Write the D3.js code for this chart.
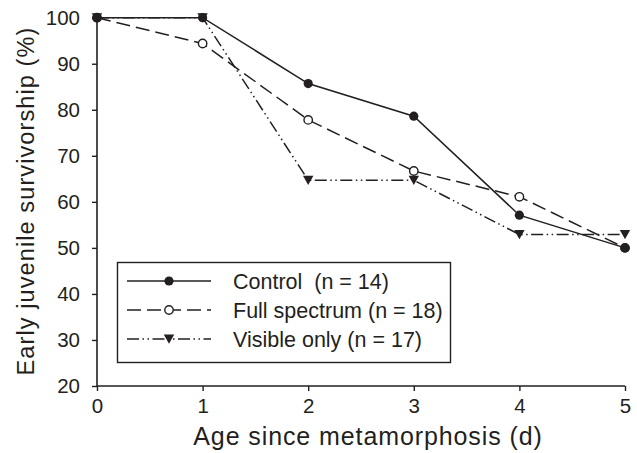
<!DOCTYPE html>
<html>
<head>
<meta charset="utf-8">
<script src="https://cdn.jsdelivr.net/npm/d3@7"></script>
<style>
  body { margin: 0; background: #fff; }
  text { font-family: "Liberation Sans", Arial, sans-serif; fill: #231f20; }
</style>
</head>
<body>
<div id="chart"></div>
<script>
// data
const ages = [0, 1, 2, 3, 4, 5]
const control = [100, 100, 85.7, 78.6, 57.1, 50]
const fullSpectrum = [100, 94.4, 77.8, 66.7, 61.1, 50]
const visibleOnly = [100, 100, 64.7, 64.7, 52.9, 52.9]
const seriesNames = ['Control  (n = 14)', 'Full spectrum (n = 18)', 'Visible only (n = 17)']
const xTicks = [0, 1, 2, 3, 4, 5]
const yTicks = [20, 30, 40, 50, 60, 70, 80, 90, 100]

function drawChart(){
    let margin = {top: 17.7, right: 12, bottom: 67, left: 97}
    let W = 637, H = 453
    let pxX = W - margin.left - margin.right,
        pxY = H - margin.top - margin.bottom

    let svg = d3.select('#chart').append('svg')
        .attr('width', W)
        .attr('height', H)
    let g = svg.append('g')
        .attr('transform', `translate(${margin.left},${margin.top})`)

    let scX = d3.scaleLinear().domain([0, 5]).range([0, pxX])
    let scY = d3.scaleLinear().domain([20, 100]).range([pxY, 0])
    let ink = '#231f20'

    // axes
    let yAxis = g.append('g')
        .call(d3.axisLeft(scY).tickValues(yTicks).tickFormat(d3.format('d')).tickSize(5).tickPadding(12))
    let xAxis = g.append('g')
        .attr('transform', `translate(0,${pxY})`)
        .call(d3.axisBottom(scX).tickValues(xTicks).tickFormat(d3.format('d')).tickSize(5).tickPadding(7))
    ;[xAxis, yAxis].forEach(a=>{
        a.select('.domain').attr('stroke', ink).attr('stroke-width', 1.6)
            .attr('d', a === xAxis ? `M0,0H${pxX}` : `M0,0V${pxY}`)
        a.selectAll('.tick line').attr('stroke', ink).attr('stroke-width', 1.4)
        a.selectAll('.tick text').attr('font-size', '20.5px').attr('fill', ink)
            .style('font-family', '"Liberation Sans", Arial, sans-serif')
    })

    // axis titles
    svg.append('text')
        .attr('x', 368)
        .attr('y', 445)
        .attr('text-anchor', 'middle')
        .attr('font-size', '25px')
        .attr('letter-spacing', '0.9px')
        .text('Age since metamorphosis (d)')
    svg.append('text')
        .attr('transform', `translate(34,201) rotate(-90)`)
        .attr('text-anchor', 'middle')
        .attr('font-size', '23.5px')
        .attr('letter-spacing', '1.1px')
        .text('Early juvenile survivorship (%)')

    let series = [
        {name: seriesNames[0], vals: control, dash: null, marker: 'dot'},
        {name: seriesNames[1], vals: fullSpectrum, dash: '14,6', marker: 'open'},
        {name: seriesNames[2], vals: visibleOnly, dash: '12,3.5,1.5,3.5,1.5,3.5', marker: 'tri'}
    ]

    function marker(sel, kind, x, y){
        if (kind === 'dot') {
            sel.append('circle').attr('cx', x).attr('cy', y).attr('r', 4.6)
                .attr('fill', ink)
        } else if (kind === 'open') {
            sel.append('circle').attr('cx', x).attr('cy', y).attr('r', 4.2)
                .attr('fill', '#fff').attr('stroke', ink).attr('stroke-width', 1.4)
        } else {
            sel.append('path')
                .attr('d', `M${x - 5.2},${y - 4.5}L${x + 5.2},${y - 4.5}L${x},${y + 4.8}Z`)
                .attr('fill', ink)
        }
    }

    let line = d3.line().x((d, i)=>scX(ages[i])).y(d=>scY(d))

    // draw visible first so control ends on top
    series.slice().reverse().forEach(s=>{
        g.append('path')
            .datum(s.vals)
            .attr('d', line)
            .attr('fill', 'none')
            .attr('stroke', ink)
            .attr('stroke-width', 1.5)
            .attr('stroke-dasharray', s.dash)
        s.vals.forEach((v, i)=>marker(g, s.marker, scX(ages[i]), scY(v)))
    })

    // legend
    let leg = svg.append('g')
    leg.append('rect')
        .attr('x', 117.5).attr('y', 262.5)
        .attr('width', 333).attr('height', 100)
        .attr('fill', '#fff').attr('stroke', ink).attr('stroke-width', 1.4)
    series.forEach((s, i)=>{
        let y = 281 + i * 29
        leg.append('line')
            .attr('x1', 127).attr('x2', 211).attr('y1', y).attr('y2', y)
            .attr('stroke', ink).attr('stroke-width', 1.5)
            .attr('stroke-dasharray', s.dash)
        marker(leg, s.marker, 169, y)
        leg.append('text')
            .attr('x', 233).attr('y', y + 8)
            .attr('font-size', '21.5px')
            .style('white-space', 'pre')
            .text(s.name)
    })
}

drawChart()
</script>
</body>
</html>
